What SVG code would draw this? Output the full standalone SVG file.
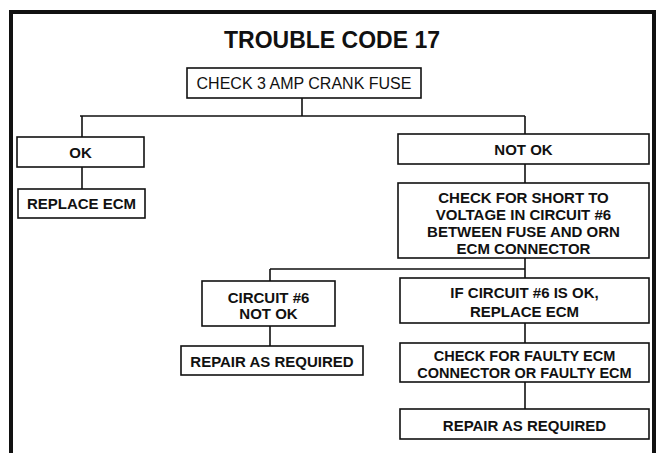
<svg xmlns="http://www.w3.org/2000/svg" width="662" height="453" viewBox="0 0 662 453">
<style>
.box{fill:#fff;stroke:#111;stroke-width:1.6}
.t{font-family:"Liberation Sans",Arial,sans-serif;font-weight:bold;font-size:15px;fill:#111;text-anchor:middle}
.n{font-weight:normal;font-size:16px}
.s{font-size:14.5px}
.c{fill:none;stroke:#111;stroke-width:1.6}
</style>
<rect x="0" y="0" width="662" height="453" fill="#fff"/>
<path d="M11,460 V12 H654 V460" fill="none" stroke="#111" stroke-width="4"/>
<text x="332" y="48" class="t" style="font-size:23px">TROUBLE CODE 17</text>
<g id="connectors">
<path class="c" d="M302,98 V116 M80,116 H525 M82,116 V137 M525,116 V134"/>
<path class="c" d="M82,167 V189"/>
<path class="c" d="M525,164 V183"/>
<path class="c" d="M525,258 V278 M270,269 H525 M270,269 V281"/>
<path class="c" d="M270,326 V346"/>
<path class="c" d="M525,323 V343"/>
<path class="c" d="M525,382 V409"/>
</g>
<g id="fuse"><rect class="box" x="187" y="68" width="234" height="30"/><text class="t n" x="304" y="89">CHECK 3 AMP CRANK FUSE</text></g>
<g id="ok"><rect class="box" x="17" y="137" width="127" height="30"/><text class="t" x="80.5" y="158">OK</text></g>
<g id="replace1"><rect class="box" x="18" y="189" width="127" height="29"/><text class="t" x="81.5" y="209">REPLACE ECM</text></g>
<g id="notok"><rect class="box" x="398" y="134" width="251" height="30"/><text class="t" x="523.5" y="155">NOT OK</text></g>
<g id="checkshort"><rect class="box" x="398" y="183" width="251" height="75"/>
<text class="t" x="523.5" y="203">CHECK FOR SHORT TO</text>
<text class="t" x="523.5" y="220">VOLTAGE IN CIRCUIT #6</text>
<text class="t" x="523.5" y="237">BETWEEN FUSE AND ORN</text>
<text class="t" x="523.5" y="254">ECM CONNECTOR</text></g>
<g id="circnotok"><rect class="box" x="202" y="281" width="133" height="45"/>
<text class="t" x="268.5" y="303">CIRCUIT #6</text>
<text class="t" x="268.5" y="319">NOT OK</text></g>
<g id="repair1"><rect class="box" x="181" y="346" width="182" height="29"/><text class="t" x="272" y="367">REPAIR AS REQUIRED</text></g>
<g id="ifok"><rect class="box" x="400" y="278" width="249" height="45"/>
<text class="t" x="524.5" y="298">IF CIRCUIT #6 IS OK,</text>
<text class="t" x="524.5" y="317">REPLACE ECM</text></g>
<g id="faulty"><rect class="box" x="400" y="343" width="249" height="39"/>
<text class="t s" x="524.5" y="361">CHECK FOR FAULTY ECM</text>
<text class="t s" x="524.5" y="377.5">CONNECTOR OR FAULTY ECM</text></g>
<g id="repair2"><rect class="box" x="400" y="409" width="249" height="30"/><text class="t" x="524.5" y="431">REPAIR AS REQUIRED</text></g>
</svg>
